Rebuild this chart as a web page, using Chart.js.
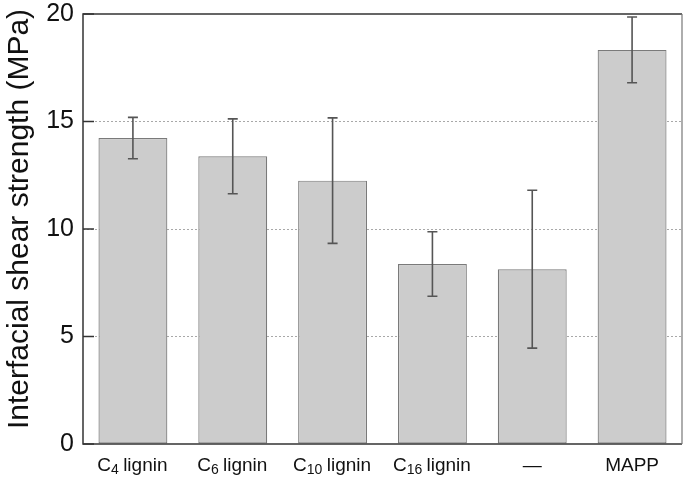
<!DOCTYPE html>
<html>
<head>
<meta charset="utf-8">
<script src="https://cdn.jsdelivr.net/npm/chart.js@4.4.1/dist/chart.umd.min.js"></script>
<style>
  html, body { margin: 0; padding: 0; background: #fff; }
  #wrap { width: 685px; height: 481px; }
</style>
</head>
<body>
<div id="wrap"><canvas id="chartIFSS"></canvas></div>
<script>
// Data
const categories = ["C4 lignin", "C6 lignin", "C10 lignin", "C16 lignin", "\u2014", "MAPP"];
// label pieces, so the carbon number can be drawn as a subscript
const labelHead = ["C", "C", "C", "C", "\u2014", "MAPP"];
const labelSub = ["4", "6", "10", "16", "", ""];
const labelTail = [" lignin", " lignin", " lignin", " lignin", "", ""];
const strengthMean = [14.23, 13.38, 12.25, 8.37, 8.13, 18.33];
const strengthErr = [0.96, 1.74, 2.92, 1.5, 3.67, 1.53];
const yTicks = [0, 5, 10, 15, 20];
const yTitle = "Interfacial shear strength (MPa)";

const FONT = "'Liberation Sans', Arial, Helvetica, sans-serif";

// Error bars + inward tick marks + frame + labels, drawn through the chart scales
const errorBarPlugin = {
  id: "errorBars",
  afterDatasetsDraw(chart) {
    const ctx = chart.ctx;
    const meta = chart.getDatasetMeta(0);
    const y = chart.scales.y;
    ctx.save();
    ctx.strokeStyle = "#555";
    ctx.lineWidth = 1.6;
    meta.data.forEach((bar, i) => {
      const x = bar.x;
      const top = y.getPixelForValue(strengthMean[i] + strengthErr[i]);
      const bot = y.getPixelForValue(strengthMean[i] - strengthErr[i]);
      ctx.beginPath();
      ctx.moveTo(x, top); ctx.lineTo(x, bot);
      ctx.moveTo(x - 5, top); ctx.lineTo(x + 5, top);
      ctx.moveTo(x - 5, bot); ctx.lineTo(x + 5, bot);
      ctx.stroke();
    });
    ctx.restore();
  },
  afterDraw(chart) {
    const ctx = chart.ctx;
    const a = chart.chartArea;
    const y = chart.scales.y;
    const x = chart.scales.x;
    ctx.save();
    ctx.strokeStyle = "#333";
    ctx.lineWidth = 1.5;
    yTicks.forEach(v => {
      const py = y.getPixelForValue(v);
      ctx.beginPath();
      ctx.moveTo(a.left, py); ctx.lineTo(a.left + 11, py);
      ctx.stroke();
    });
    ctx.beginPath();
    ctx.moveTo(a.right, a.top); ctx.lineTo(a.left, a.top);
    ctx.lineTo(a.left, a.bottom); ctx.lineTo(a.right, a.bottom);
    ctx.stroke();
    ctx.strokeStyle = "#777";
    ctx.lineWidth = 1.2;
    ctx.beginPath();
    ctx.moveTo(a.right, a.top); ctx.lineTo(a.right, a.bottom);
    ctx.stroke();

    // category labels with subscripts
    const mainFont = "19px " + FONT;
    const subFont = "14px " + FONT;
    const base = a.bottom + 27;
    ctx.fillStyle = "#111";
    ctx.textBaseline = "alphabetic";
    ctx.textAlign = "left";
    categories.forEach((c, i) => {
      ctx.font = mainFont;
      const wHead = ctx.measureText(labelHead[i]).width;
      const wTail = ctx.measureText(labelTail[i]).width;
      ctx.font = subFont;
      const wSub = ctx.measureText(labelSub[i]).width;
      let px = x.getPixelForValue(i) - (wHead + wSub + wTail) / 2;
      ctx.font = mainFont;
      ctx.fillText(labelHead[i], px, base);
      px += wHead;
      ctx.font = subFont;
      ctx.fillText(labelSub[i], px, base + 3);
      px += wSub;
      ctx.font = mainFont;
      ctx.fillText(labelTail[i], px - 1, base);
    });

    // rotated y-axis title
    ctx.translate(28, (a.top + a.bottom) / 2 - 10);
    ctx.rotate(-Math.PI / 2);
    ctx.font = "30px " + FONT;
    ctx.textAlign = "center";
    ctx.textBaseline = "alphabetic";
    ctx.fillText(yTitle, 0, 0);
    ctx.restore();
  }
};

new Chart(document.getElementById("chartIFSS").getContext("2d"), {
  type: "bar",
  data: {
    labels: categories,
    datasets: [{
      data: strengthMean,
      backgroundColor: "#cccccc",
      borderColor: "#7a7a7a",
      borderWidth: 1.2,
      borderSkipped: false,
      barPercentage: 0.69,
      categoryPercentage: 1.0
    }]
  },
  options: {
    responsive: true,
    maintainAspectRatio: false,
    animation: false,
    layout: { padding: { top: 13, right: 3, left: 0, bottom: 0 } },
    plugins: { legend: { display: false }, tooltip: { enabled: false } },
    scales: {
      x: {
        border: { display: false },
        grid: { display: false, drawTicks: false },
        ticks: { display: false },
        afterFit(scale) { scale.height = 37; }
      },
      y: {
        min: 0,
        max: 20,
        afterBuildTicks(scale) { scale.ticks = yTicks.map(v => ({ value: v })); },
        border: { display: false, dash: [2, 2] },
        grid: {
          drawTicks: false,
          color: ctx => (ctx.tick && (ctx.tick.value === 0 || ctx.tick.value === 20)) ? "rgba(0,0,0,0)" : "#a8a8a8",
          lineWidth: 1
        },
        ticks: { color: "#111", font: { family: FONT, size: 25, lineHeight: 0.4 }, padding: 9 },
        title: { display: false },
        afterFit(scale) { scale.width = 83; }
      }
    }
  },
  plugins: [errorBarPlugin]
});
</script>
</body>
</html>
